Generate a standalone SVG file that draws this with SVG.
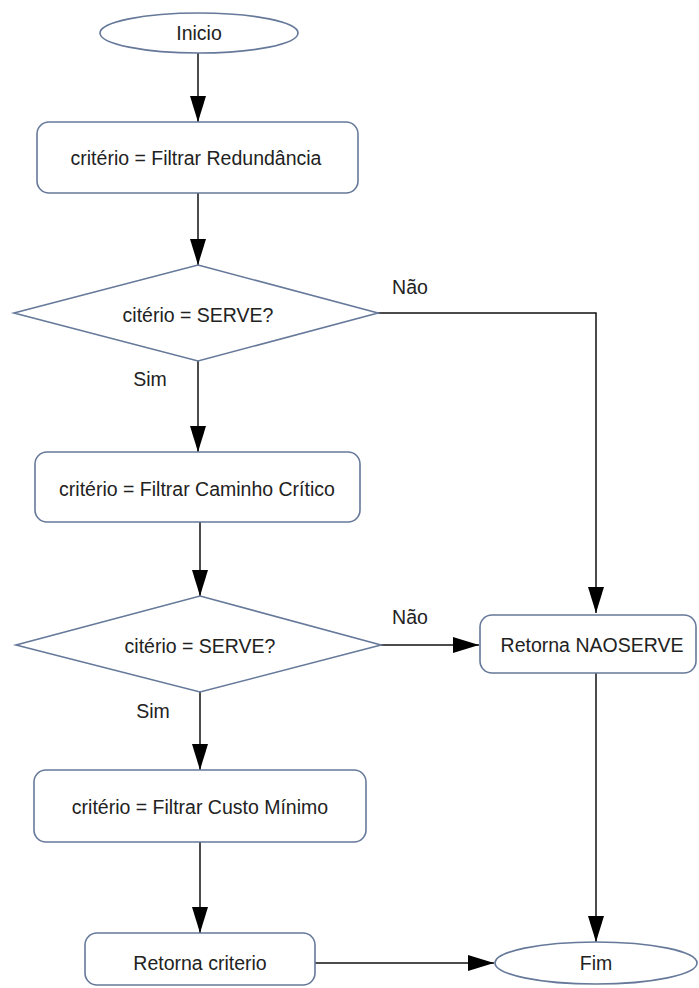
<svg xmlns="http://www.w3.org/2000/svg" width="699" height="988" viewBox="0 0 699 988">
<style>
.n{fill:#fff;stroke:#66799a;stroke-width:1.6}
.c{fill:none;stroke:#111;stroke-width:1.5}
text{font-family:"Liberation Sans",Arial,sans-serif;font-size:19.5px;fill:#222;text-anchor:middle;dominant-baseline:central}
</style>
<defs>
<marker id="a" markerUnits="userSpaceOnUse" markerWidth="28" markerHeight="18" refX="26" refY="8" orient="auto">
<path d="M0,0 L26,8 L0,16 z" fill="#000"/>
</marker>
</defs>
<rect width="699" height="988" fill="#fff"/>
<g id="connectors">
<path class="c" d="M198,53 V122" marker-end="url(#a)"/>
<path class="c" d="M198,193 V265" marker-end="url(#a)"/>
<path class="c" d="M198,361 V452" marker-end="url(#a)"/>
<path class="c" d="M378,313 H596 V613" marker-end="url(#a)"/>
<path class="c" d="M200,522 V596" marker-end="url(#a)"/>
<path class="c" d="M381,645 H479" marker-end="url(#a)"/>
<path class="c" d="M200,692 V770" marker-end="url(#a)"/>
<path class="c" d="M200,842 V933" marker-end="url(#a)"/>
<path class="c" d="M596,673 V942" marker-end="url(#a)"/>
<path class="c" d="M315,963 H494" marker-end="url(#a)"/>
</g>
<g id="inicio"><ellipse class="n" cx="199" cy="33" rx="99" ry="20"/><text x="199" y="33">Inicio</text></g>
<g id="filtrar-redundancia"><rect class="n" x="37" y="122" width="321" height="71" rx="12"/><text x="196" y="158">critério = Filtrar Redundância</text></g>
<g id="decisao1"><polygon class="n" points="198,265 378,313 198,361 14,313"/><text x="198" y="315">citério = SERVE?</text></g>
<text x="410" y="287">Não</text>
<text x="150" y="379">Sim</text>
<g id="filtrar-caminho"><rect class="n" x="35" y="452" width="325" height="70" rx="12"/><text x="197" y="489">critério = Filtrar Caminho Crítico</text></g>
<g id="decisao2"><polygon class="n" points="200,596 381,645 200,692 16,645"/><text x="200" y="646">citério = SERVE?</text></g>
<text x="410" y="617">Não</text>
<text x="153" y="711">Sim</text>
<g id="retorna-naoserve"><rect class="n" x="480" y="615" width="216" height="58" rx="12"/><text x="592" y="645">Retorna NAOSERVE</text></g>
<g id="filtrar-custo"><rect class="n" x="34" y="770" width="332" height="72" rx="12"/><text x="200" y="807">critério = Filtrar Custo Mínimo</text></g>
<g id="retorna-criterio"><rect class="n" x="85" y="933" width="230" height="52" rx="12"/><text x="200" y="963">Retorna criterio</text></g>
<g id="fim"><ellipse class="n" cx="596" cy="963" rx="101" ry="21"/><text x="596" y="963">Fim</text></g>
</svg>
